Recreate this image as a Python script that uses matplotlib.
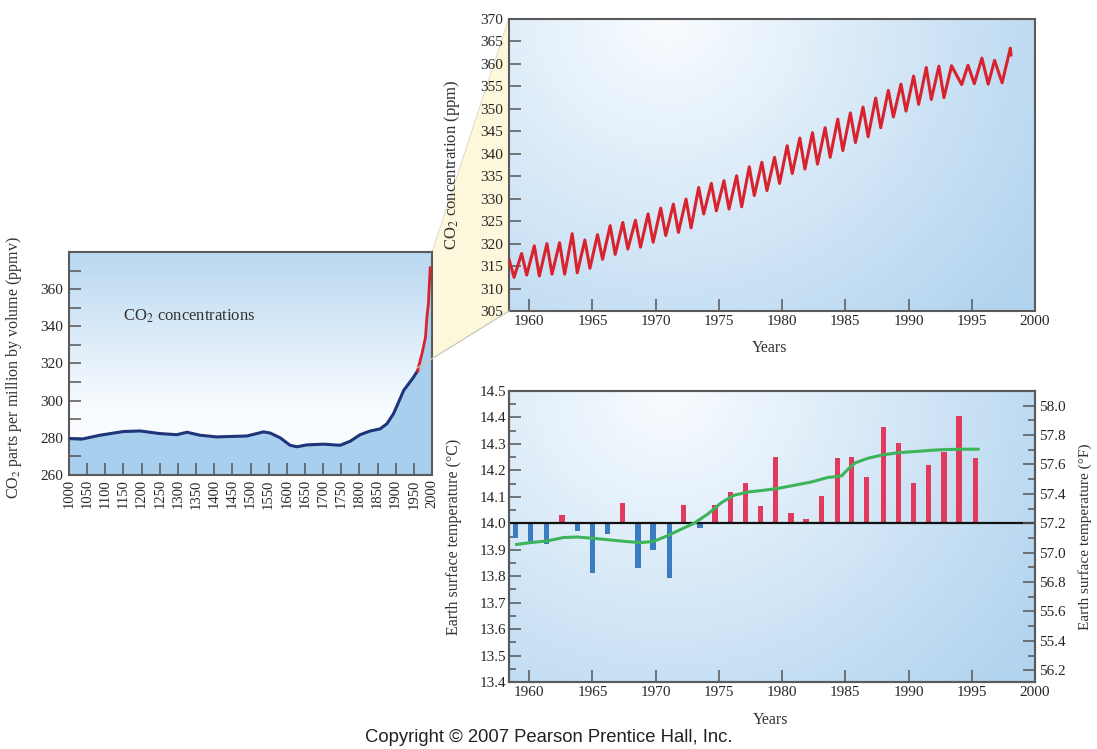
import numpy as np
import matplotlib
matplotlib.use('Agg')
import matplotlib.pyplot as plt
from matplotlib.patches import Polygon
from matplotlib.lines import Line2D
from matplotlib.colors import to_rgb
from matplotlib.ticker import MultipleLocator

plt.rcParams['font.family'] = ['Liberation Serif', 'DejaVu Serif']
plt.rcParams['mathtext.fontset'] = 'stix'

# --- left panel: CO2 over the millennium (ice core + Mauna Loa)
ice_years = [1000, 1035, 1085, 1150, 1196, 1250, 1297, 1325, 1361, 1407, 1490, 1536,
             1554, 1582, 1609, 1628, 1655, 1701, 1747, 1775, 1802, 1830, 1857, 1876,
             1894, 1922, 1949, 1960]
ice_ppm = [279.6, 279.3, 281.4, 283.4, 283.7, 282.3, 281.7, 283.0, 281.4, 280.5, 281.0, 283.2,
           282.6, 280.0, 276.0, 275.2, 276.2, 276.6, 276.0, 278.2, 281.7, 283.7, 284.8, 287.6,
           293.0, 305.5, 312.6, 316.0]
ml_years = [1960, 1972, 1982, 1986, 1990, 1995]
ml_ppm = [316.0, 325.0, 334.0, 345.0, 352.0, 371.5]

# --- top right: Mauna Loa seasonal record (peaks and troughs)
co2_t = [1958.4, 1958.8, 1959.4, 1959.8, 1960.4, 1960.8, 1961.4, 1961.8, 1962.4, 1962.8,
         1963.4, 1963.8, 1964.4, 1964.8, 1965.4, 1965.8, 1966.4, 1966.8, 1967.4, 1967.8,
         1968.4, 1968.8, 1969.4, 1969.8, 1970.4, 1970.8, 1971.4, 1971.8, 1972.4, 1972.8,
         1973.4, 1973.8, 1974.4, 1974.8, 1975.4, 1975.8, 1976.4, 1976.8, 1977.4, 1977.8,
         1978.4, 1978.8, 1979.4, 1979.8, 1980.4, 1980.8, 1981.4, 1981.8, 1982.4, 1982.8,
         1983.4, 1983.8, 1984.4, 1984.8, 1985.4, 1985.8, 1986.4, 1986.8, 1987.4, 1987.8,
         1988.4, 1988.8, 1989.4, 1989.8, 1990.4, 1990.8, 1991.4, 1991.8, 1992.4, 1992.8,
         1993.4, 1994.2, 1994.7, 1995.2, 1995.8, 1996.3, 1996.8, 1997.4, 1998.05, 1998.1]
co2_ppm = [316.5, 312.5, 317.8, 313.0, 319.5, 312.8, 320.0, 313.2, 320.2, 313.2,
           322.2, 313.5, 320.8, 314.5, 322.0, 316.5, 324.0, 317.6, 324.7, 318.8,
           325.2, 319.2, 326.6, 320.3, 327.9, 321.8, 328.8, 322.5, 329.9, 323.5,
           332.5, 326.6, 333.4, 327.3, 334.0, 327.7, 335.1, 328.2, 337.1, 330.7,
           338.1, 331.8, 339.2, 333.4, 341.8, 335.6, 343.5, 336.6, 344.7, 337.7,
           345.8, 339.2, 347.7, 340.7, 349.1, 342.5, 350.4, 343.8, 352.4, 345.8,
           354.1, 348.2, 355.5, 349.5, 357.3, 351.0, 359.2, 352.1, 359.5, 352.5,
           359.6, 355.4, 359.7, 355.6, 361.3, 355.5, 360.8, 355.8, 363.5, 362.0]

# --- bottom right: surface temperature
bar_years = [1958.9, 1960.1, 1961.35, 1962.6, 1963.8, 1965.0, 1966.2, 1967.4, 1968.6, 1969.8,
             1971.1, 1972.2, 1973.5, 1974.7, 1975.9, 1977.1, 1978.3, 1979.5, 1980.7, 1981.9,
             1983.1, 1984.4, 1985.5, 1986.7, 1988.0, 1989.2, 1990.4, 1991.6, 1992.8, 1994.0,
             1995.3]
bar_temp = [13.946, 13.923, 13.92, 14.03, 13.971, 13.813, 13.958, 14.076, 13.83, 13.898,
            13.792, 14.069, 13.984, 14.069, 14.118, 14.154, 14.066, 14.252, 14.038, 14.018,
            14.102, 14.245, 14.252, 14.176, 14.365, 14.302, 14.154, 14.219, 14.27, 14.406,
            14.245]
smooth_years = [1959.0, 1960.1, 1961.4, 1962.7, 1963.8, 1965.1, 1966.4, 1967.7, 1968.8, 1969.8,
                1970.9, 1971.9, 1973.0, 1974.1, 1975.2, 1976.2, 1977.3, 1978.6, 1979.7, 1981.0,
                1982.3, 1983.6, 1984.7, 1985.2, 1985.8, 1986.8, 1987.9, 1989.2, 1990.5, 1991.8,
                1993.1, 1994.5, 1995.5]
smooth_temp = [13.92, 13.927, 13.933, 13.946, 13.948, 13.943, 13.937, 13.931, 13.927, 13.931,
               13.952, 13.975, 13.999, 14.034, 14.078, 14.106, 14.118, 14.125, 14.132, 14.144,
               14.156, 14.173, 14.179, 14.204, 14.229, 14.246, 14.258, 14.267, 14.271, 14.276,
               14.279, 14.28, 14.28]
f_ticks = [56.2, 56.4, 56.6, 56.8, 57.0, 57.2, 57.4, 57.6, 57.8, 58.0]
f_labels = ['56.2', '55.4', '55.6', '56.8', '57.0', '57.2', '57.4', '57.6', '57.8', '58.0']

W, H = 1097, 749
fig = plt.figure(figsize=(W / 100, H / 100), dpi=100)


def px(x, y):
    return (x / W, 1 - y / H)


def bg(ax, mode):
    yy, xx = np.mgrid[0:1:200j, 0:1:200j]
    white = np.array(to_rgb('#f9fcff'))
    if mode == 'radial':
        blue = np.array(to_rgb('#b2d4ef'))
        t = np.clip(np.hypot((xx - 0.3) / 0.85, (yy - 1.0) / 1.45), 0, 1)
    else:
        blue = np.array(to_rgb('#b9d8f1'))
        t = np.clip((yy - 0.3) / 0.7, 0, 1)
    img = white * (1 - t[..., None]) + blue * t[..., None]
    ax.imshow(img, extent=[0, 1, 0, 1], transform=ax.transAxes, origin='lower',
              aspect='auto', zorder=0, interpolation='bilinear')


def style(ax):
    for s in ax.spines.values():
        s.set_color('#5a5a5a')
        s.set_linewidth(1.5)
    ax.tick_params(which='both', direction='in', length=8.5, width=1.1, color='#555',
                   labelcolor='#262626', labelsize=11)


# zoom wedge joining the two CO2 panels
wedge = Polygon([px(432, 253), px(509, 19), px(509, 311), px(417, 368)], closed=True,
                transform=fig.transFigure, facecolor='#fdf8dc', edgecolor='none', zorder=-1)
fig.patches.append(wedge)
fig.lines.append(Line2D([px(432, 253)[0], px(509, 19)[0]], [px(432, 253)[1], px(509, 19)[1]],
                        transform=fig.transFigure, color='#cfcab0', lw=0.9, zorder=-1))
fig.lines.append(Line2D([px(417, 368)[0], px(509, 311)[0]], [px(417, 368)[1], px(509, 311)[1]],
                        transform=fig.transFigure, color='#c8c8b8', lw=0.9, zorder=10))

# left panel
ax1 = fig.add_axes([69 / W, 1 - 475 / H, 363 / W, 223 / H])
bg(ax1, 'vertical')
ax1.fill_between(ice_years + ml_years[1:], ice_ppm + ml_ppm[1:], 260, color='#a9cfee', zorder=1)
ax1.plot(ice_years, ice_ppm, color='#1f3579', lw=2.2, zorder=3)
ax1.plot(ml_years, ml_ppm, color='#d8232f', lw=2.0, zorder=3)
ax1.set_xlim(1000, 2000)
ax1.set_ylim(260, 380)
ax1.set_xticks(range(1000, 2001, 50))
ax1.set_xticklabels([str(y) for y in range(1000, 2001, 50)], rotation=90)
ax1.set_yticks(range(260, 361, 20))
ax1.yaxis.set_minor_locator(MultipleLocator(10))
style(ax1)
ax1.tick_params(axis='y', pad=4)
ax1.tick_params(axis='x', pad=3, labelsize=10.5)
ax1.text(1150, 345.5, 'CO$_2$ concentrations', fontsize=12, color='#333', va='center', zorder=4)
ax1.set_ylabel('CO$_2$ parts per million by volume (ppmv)', fontsize=11.5, color='#333')
ax1.yaxis.set_label_coords(-0.125, 0.48)

# top right panel
ax2 = fig.add_axes([509 / W, 1 - 311 / H, 526 / W, 292 / H])
bg(ax2, 'radial')
ax2.plot(co2_t, co2_ppm, color='#d8232f', lw=2.2, zorder=3, solid_joinstyle='round')
ax2.set_xlim(1958.4, 2000)
ax2.set_ylim(305, 370)
ax2.set_xticks(range(1960, 2001, 5))
ax2.set_yticks(range(305, 371, 5))
style(ax2)
ax2.tick_params(axis='y', pad=4)
ax2.tick_params(axis='x', pad=3)
ax2.set_ylabel('CO$_2$ concentration (ppm)', fontsize=12, color='#333')
ax2.yaxis.set_label_coords(-0.089, 0.5)
ax2.set_xlabel('Years', fontsize=11.5, color='#333')
ax2.xaxis.set_label_coords(0.496, -0.1)

# bottom right panel
ax3 = fig.add_axes([509 / W, 1 - 682 / H, 526 / W, 291 / H])
bg(ax3, 'radial')
colors = ['#e03a5c' if v >= 14.0 else '#3b7cc0' for v in bar_temp]
ax3.bar(bar_years, [v - 14.0 for v in bar_temp], bottom=14.0, width=0.42, color=colors, zorder=2)
ax3.axhline(14.0, color='#111', lw=1.6, zorder=3)
ax3.plot(smooth_years, smooth_temp, color='#3db35a', lw=2.2, zorder=4)
ax3.set_xlim(1958.4, 2000)
ax3.set_ylim(13.4, 14.5)
ax3.set_xticks(range(1960, 2001, 5))
ax3.set_yticks(np.arange(13.4, 14.51, 0.1))
ax3.set_yticklabels(['%.1f' % v for v in np.arange(13.4, 14.51, 0.1)])
ax3.yaxis.set_minor_locator(MultipleLocator(0.05))
style(ax3)
ax3.tick_params(axis='y', which='minor', length=5)
ax3.tick_params(axis='y', pad=2)
ax3.tick_params(axis='x', pad=3)
ax3.set_ylabel('Earth surface temperature (\u00b0C)', fontsize=11.5, color='#333')
ax3.yaxis.set_label_coords(-0.089, 0.5)
ax3.set_xlabel('Years', fontsize=11.5, color='#333')
ax3.xaxis.set_label_coords(0.498, -0.103)

ax3r = ax3.twinx()
ax3r.set_ylim(13.4 * 1.8 + 32, 14.5 * 1.8 + 32)
ax3r.set_yticks(f_ticks)
ax3r.set_yticklabels(f_labels)
ax3r.yaxis.set_minor_locator(MultipleLocator(0.1))
style(ax3r)
ax3r.tick_params(axis='y', which='minor', length=5)
ax3r.tick_params(axis='y', pad=3)
ax3r.set_ylabel('Earth surface temperature (\u00b0F)', fontsize=11, color='#333')
ax3r.yaxis.set_label_coords(1.082, 0.5)

fig.text(0.5, 1 - 738 / H, 'Copyright \u00a9 2007 Pearson Prentice Hall, Inc.', ha='center',
         va='center', fontsize=13.3, color='#222', family=['Liberation Sans', 'DejaVu Sans'])

fig.savefig('out.png', dpi=100)
